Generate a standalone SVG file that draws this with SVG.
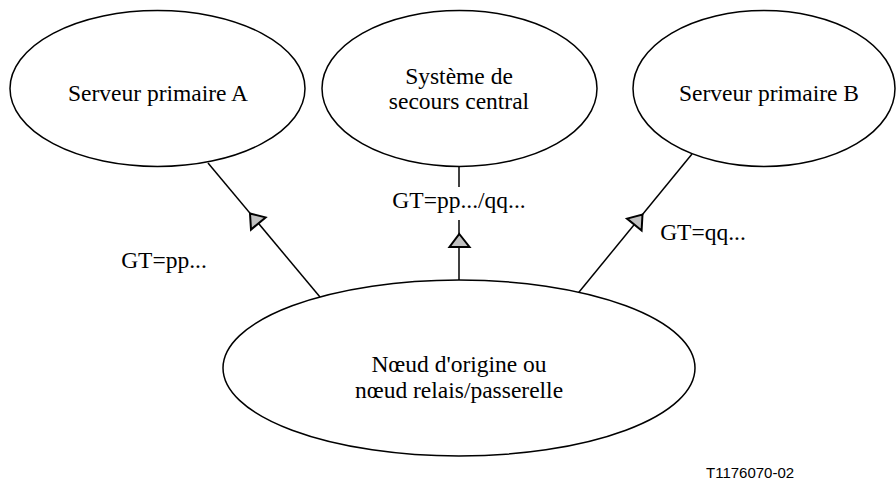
<svg xmlns="http://www.w3.org/2000/svg" width="896" height="481" viewBox="0 0 896 481">
  <style>
    .node { fill: #ffffff; stroke: #000000; stroke-width: 1.5; }
    .lbl { font-family: "Liberation Serif", "Times New Roman", serif; font-size: 23.5px; fill: #000000; text-anchor: middle; }
    .edge { stroke: #000000; stroke-width: 1.5; fill: none; }
    .head { fill: #c0c0c0; stroke: #000000; stroke-width: 2; stroke-linejoin: miter; }
    .foot { font-family: "Liberation Sans", Arial, sans-serif; font-size: 15px; fill: #000000; }
  </style>
  <rect width="896" height="481" fill="#ffffff"/>

  <g id="connectors">
    <line class="edge" x1="208" y1="163" x2="320" y2="297"/>
    <polygon class="head" points="250,213.5 265.6,217.4 251,229.6"/>

    <line class="edge" x1="459" y1="167" x2="459" y2="187"/>
    <line class="edge" x1="459" y1="220" x2="459" y2="281"/>
    <polygon class="head" points="459.3,234 469.5,247 449.5,247"/>

    <line class="edge" x1="692" y1="154" x2="575" y2="297"/>
    <polygon class="head" points="642.5,214.5 641.6,230.6 627,218.6"/>

    <text class="lbl" x="164" y="268">GT=pp...</text>
    <text class="lbl" x="459" y="208">GT=pp.../qq...</text>
    <text class="lbl" x="703" y="240">GT=qq...</text>
  </g>

  <g id="node-serveur-a">
    <ellipse class="node" cx="157.5" cy="88.5" rx="147.5" ry="78"/>
    <text class="lbl" x="158" y="101">Serveur primaire A</text>
  </g>

  <g id="node-secours-central">
    <ellipse class="node" cx="459.5" cy="88.5" rx="137.5" ry="78"/>
    <text class="lbl" x="459" y="84">Système de</text>
    <text class="lbl" x="459" y="109">secours central</text>
  </g>

  <g id="node-serveur-b">
    <ellipse class="node" cx="764" cy="88.5" rx="131" ry="78"/>
    <text class="lbl" x="769" y="101">Serveur primaire B</text>
  </g>

  <g id="node-noeud-origine">
    <ellipse class="node" cx="459" cy="368" rx="236" ry="88"/>
    <text class="lbl" x="459" y="372">Nœud d'origine ou</text>
    <text class="lbl" x="459" y="398">nœud relais/passerelle</text>
  </g>

  <text class="foot" x="706" y="478">T1176070-02</text>
</svg>
